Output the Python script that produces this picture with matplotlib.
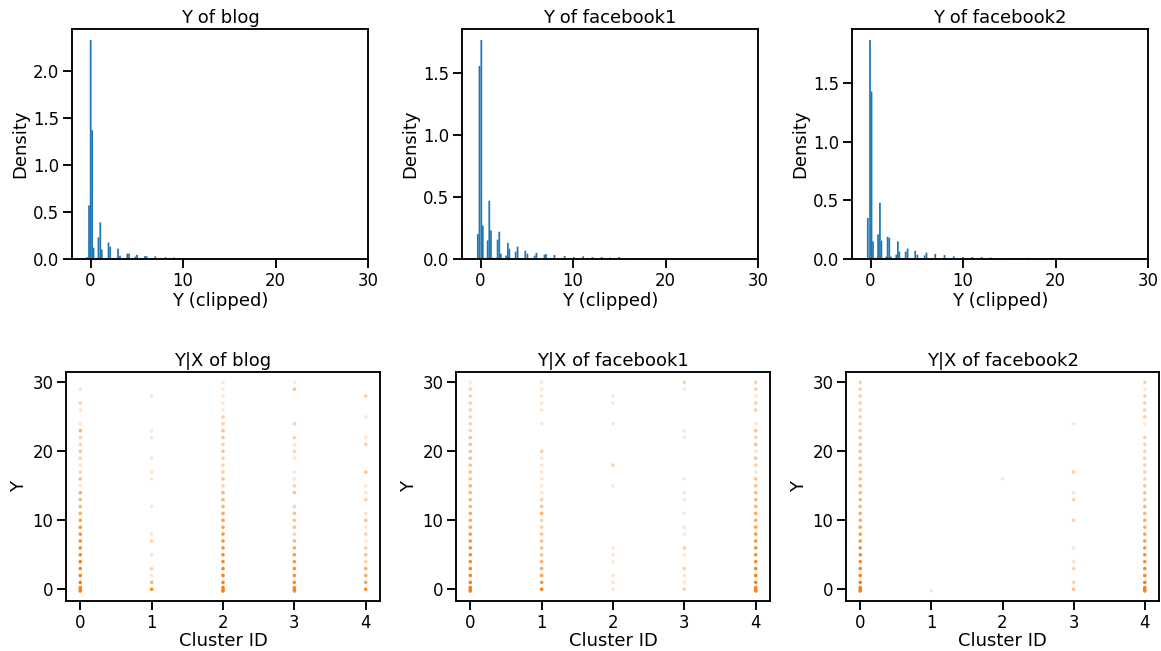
import numpy as np
import matplotlib
matplotlib.use("Agg")
import matplotlib.pyplot as plt

# ---------------- data ----------------
datasets = ["blog", "facebook1", "facebook2"]

blog_centers = [-0.34, -0.16, 0.02, 0.18, 0.33, 0.70, 0.86, 1.06, 1.22, 1.79, 1.95, 2.13, 2.30,
                2.80, 2.98, 3.19, 3.82, 3.98, 4.16, 4.86, 5.04, 5.88, 6.06, 7.0, 8.1, 9.0, 10.0,
                11.0, 12.0, 13.0, 14.1, 15, 16, 17, 18, 19, 20, 21, 22, 23, 24, 25, 26, 27, 28, 29]
blog_density = [0.02, 0.57, 2.33, 1.37, 0.12, 0.01, 0.23, 0.39, 0.10, 0.01, 0.175, 0.13, 0.01,
                0.01, 0.11, 0.035, 0.01, 0.057, 0.057, 0.025, 0.045, 0.03, 0.03, 0.028, 0.02, 0.015, 0.01,
                0.006, 0.01, 0.006, 0.01, 0.006, 0.006, 0.006, 0.006, 0.006, 0.006, 0.006, 0.006, 0.006,
                0.006, 0.006, 0.006, 0.006, 0.006, 0.006]

fb1_centers = [-0.29, -0.11, 0.09, 0.25, 0.77, 0.95, 1.13, 1.29, 1.71, 1.85, 2.03, 2.20,
               2.76, 2.96, 3.12, 3.80, 4.01, 4.18, 4.84, 5.07, 5.86, 6.05, 6.92, 7.08, 8.0, 9.1,
               10.1, 11.1, 12.1, 13.1, 14.0, 15.0, 16.0, 17.0, 18.0, 19, 20, 21, 22, 23, 24, 25,
               26, 27, 28, 29]
fb1_density = [0.20, 1.555, 1.765, 0.27, 0.15, 0.47, 0.23, 0.01, 0.01, 0.156, 0.22, 0.043,
               0.027, 0.13, 0.083, 0.06, 0.10, 0.005, 0.067, 0.043, 0.027, 0.05, 0.035, 0.04, 0.032, 0.024,
               0.016, 0.022, 0.016, 0.016, 0.011, 0.016, 0.008, 0.008, 0.008, 0.005, 0.005, 0.005,
               0.005, 0.005, 0.005, 0.005, 0.005, 0.005, 0.005, 0.005]

fb2_centers = [-0.29, -0.05, 0.11, 0.27, 0.62, 0.82, 1.02, 1.18, 1.70, 1.85, 2.03, 2.20,
               2.79, 2.96, 3.12, 3.80, 4.01, 4.84, 5.07, 5.86, 6.05, 7.0, 8.0, 9.0, 10.0, 11.0,
               12.0, 13.0, 14.0, 15.0, 16.0, 17.0, 18, 19, 20, 21, 22, 23, 24, 25, 26, 27, 28, 29]
fb2_density = [0.35, 1.87, 1.43, 0.15, 0.01, 0.21, 0.48, 0.157, 0.02, 0.19, 0.18, 0.02,
               0.037, 0.15, 0.063, 0.063, 0.089, 0.07, 0.037, 0.03, 0.054, 0.043, 0.034, 0.023, 0.017,
               0.017, 0.017, 0.013, 0.009, 0.009, 0.009, 0.009, 0.005, 0.005, 0.005, 0.005, 0.005,
               0.005, 0.005, 0.005, 0.005, 0.005, 0.005, 0.005]

hist_centers = [blog_centers, fb1_centers, fb2_centers]
hist_density = [blog_density, fb1_density, fb2_density]

# scatter: per cluster, Y values present and how many points overlap there
blog_y = [
    [-0.25, 0, 0.25, 1, 2, 3, 4, 5, 6, 7, 8, 9, 10, 11, 12, 13, 14, 15, 16, 17, 18, 19, 20, 21, 22, 23, 24, 26, 27, 29],
    [0, 1, 2, 3, 5, 7, 8, 12, 16, 17, 19, 22, 23, 28],
    [-0.25, 0, 0.25] + list(range(1, 31)),
    [-0.25, 0, 0.25, 1, 2, 3, 4, 5, 6, 7, 8, 9, 10, 11, 12, 14, 15, 16, 17, 19, 20, 21, 22, 24, 29, 30],
    [0, 1, 2, 3, 4, 5, 6, 7, 8, 9, 10, 11, 13, 14, 15, 17, 21, 22, 25, 28],
]
blog_n = [
    [20, 50, 20, 30, 25, 20, 18, 14, 12, 10, 9, 8, 6, 5, 4, 4, 5, 1, 3, 2, 1, 2, 3, 2, 2, 4, 1, 1, 2, 1],
    [12, 4, 1, 2, 1, 2, 1, 1, 1, 1, 1, 1, 1, 1],
    [20, 50, 20, 30, 20, 15, 12, 10, 9, 8, 7, 6, 6, 5, 4, 4, 4, 2, 3, 2, 2, 2, 3, 2, 3, 3, 2, 2, 1, 1, 1, 1, 1],
    [8, 20, 8, 12, 10, 9, 8, 6, 5, 4, 2, 3, 3, 3, 2, 3, 2, 1, 1, 1, 2, 1, 2, 2, 3, 1, 2],
    [12, 6, 5, 5, 2, 3, 2, 1, 2, 1, 3, 1, 2, 1, 1, 3, 2, 1, 1, 2],
]

fb1_y = [
    [-0.25, 0, 0.25] + list(range(1, 31)),
    [0, 1, 2, 3, 4, 5, 6, 7, 8, 9, 10, 11, 12, 13, 14, 15, 16, 17, 18, 19, 20, 24, 26, 27, 28, 29, 30],
    [0, 1, 2, 4, 5, 6, 15, 18, 24, 27, 28],
    [0, 1, 2, 3, 5, 6, 8, 9, 11, 13, 14, 16, 22, 23, 29, 30],
    [-0.25, 0, 0.25, 1, 2, 3, 4, 5, 6, 7, 8, 9, 10, 11, 12, 13, 14, 15, 16, 17, 18, 19, 20, 21, 22, 23, 24,
     26, 27, 28, 29, 30],
]
fb1_n = [
    [20, 60, 20, 30, 20, 15, 12, 10, 9, 8, 7, 6, 5, 5, 4, 4, 4, 4, 3, 3, 3, 3, 3, 3, 3, 2, 2, 2, 2, 2, 2, 2, 1],
    [15, 8, 6, 5, 4, 3, 3, 3, 3, 2, 2, 4, 3, 2, 1, 1, 1, 1, 1, 1, 2, 1, 1, 1, 1, 1, 1],
    [1, 1, 1, 1, 1, 1, 1, 2, 1, 1, 1],
    [2, 1, 1, 2, 1, 2, 1, 1, 1, 1, 1, 1, 1, 1, 1, 2],
    [15, 50, 15, 25, 20, 15, 12, 10, 9, 8, 7, 6, 5, 5, 4, 4, 4, 3, 3, 1, 2, 3, 1, 3, 2, 3, 1,
     2, 2, 1, 2, 2],
]

fb2_y = [
    [-0.25, 0, 0.25] + list(range(1, 31)),
    [-0.2],
    [16],
    [0, 1, 3, 4, 6, 10, 13, 14, 17, 24],
    [-0.25, 0, 0.25, 1, 2, 3, 4, 5, 6, 7, 8, 9, 10, 11, 12, 13, 14, 15, 16, 17, 18, 19, 20, 21, 22,
     24, 25, 26, 27, 28, 29, 30],
]
fb2_n = [
    [20, 60, 20, 30, 20, 15, 12, 10, 9, 8, 7, 6, 5, 5, 4, 4, 4, 4, 3, 3, 3, 3, 3, 3, 3, 2, 2, 2, 2, 2, 2, 2, 2],
    [1],
    [1],
    [3, 2, 2, 1, 1, 2, 2, 1, 2, 1],
    [12, 40, 12, 20, 15, 12, 10, 9, 8, 7, 6, 5, 5, 4, 4, 3, 3, 3, 2, 2, 2, 2, 2, 2, 2,
     1, 2, 2, 2, 2, 1, 2],
]

scatter_y = [blog_y, fb1_y, fb2_y]
scatter_n = [blog_n, fb1_n, fb2_n]
cluster_ids = [0, 1, 2, 3, 4]

# ---------------- style ----------------
plt.rcParams.update({
    "font.family": ["DejaVu Sans"],
    "font.size": 18,
    "axes.titlesize": 18,
    "axes.labelsize": 18,
    "xtick.labelsize": 16.5,
    "ytick.labelsize": 16.5,
    "axes.linewidth": 1.875,
    "xtick.major.width": 1.875,
    "ytick.major.width": 1.875,
    "xtick.major.size": 9,
    "ytick.major.size": 9,
})

W, H = 1161, 651
DPI = 72
fig = plt.figure(figsize=(W / DPI, H / DPI), dpi=DPI)

def add_ax(l, r, t, b):
    return fig.add_axes([l / W, 1 - b / H, (r - l) / W, (b - t) / H])

top_boxes = [(72, 368), (462, 758), (852, 1148)]
bot_boxes = [(66, 380), (456, 770), (846, 1159)]

point_alpha = 0.2
orange = np.array(matplotlib.colors.to_rgb("C1"))

for i, name in enumerate(datasets):
    l, r = top_boxes[i]
    ax = add_ax(l, r, 29, 259)
    bars = ax.bar(hist_centers[i], hist_density[i], width=0.19, color="C0", linewidth=0)
    for p in bars:
        p.set_snap(False)
    ax.set_xlim(-2, 30)
    ax.set_xticks([0, 10, 20, 30])
    ax.set_title(f"Y of {name}")
    ax.set_xlabel("Y (clipped)", labelpad=2)
    ax.set_ylabel("Density")

    l, r = bot_boxes[i]
    ax2 = add_ax(l, r, 372, 601)
    xs, ys, cols = [], [], []
    for c in cluster_ids:
        for yv, n in zip(scatter_y[i][c], scatter_n[i][c]):
            a = 1 - (1 - point_alpha) ** n
            xs.append(c)
            ys.append(yv)
            cols.append((*orange, a))
    ax2.scatter(xs, ys, s=13, c=cols, marker="o", linewidths=0)
    ax2.set_ylim(-1.7, 31.5)
    ax2.set_xlim(-0.2, 4.2)
    ax2.set_xticks(cluster_ids)
    ax2.set_yticks([0, 10, 20, 30])
    ax2.set_title(f"Y|X of {name}")
    ax2.set_xlabel("Cluster ID", labelpad=1)
    ax2.set_ylabel("Y")

fig.savefig("out.png", dpi=DPI)
